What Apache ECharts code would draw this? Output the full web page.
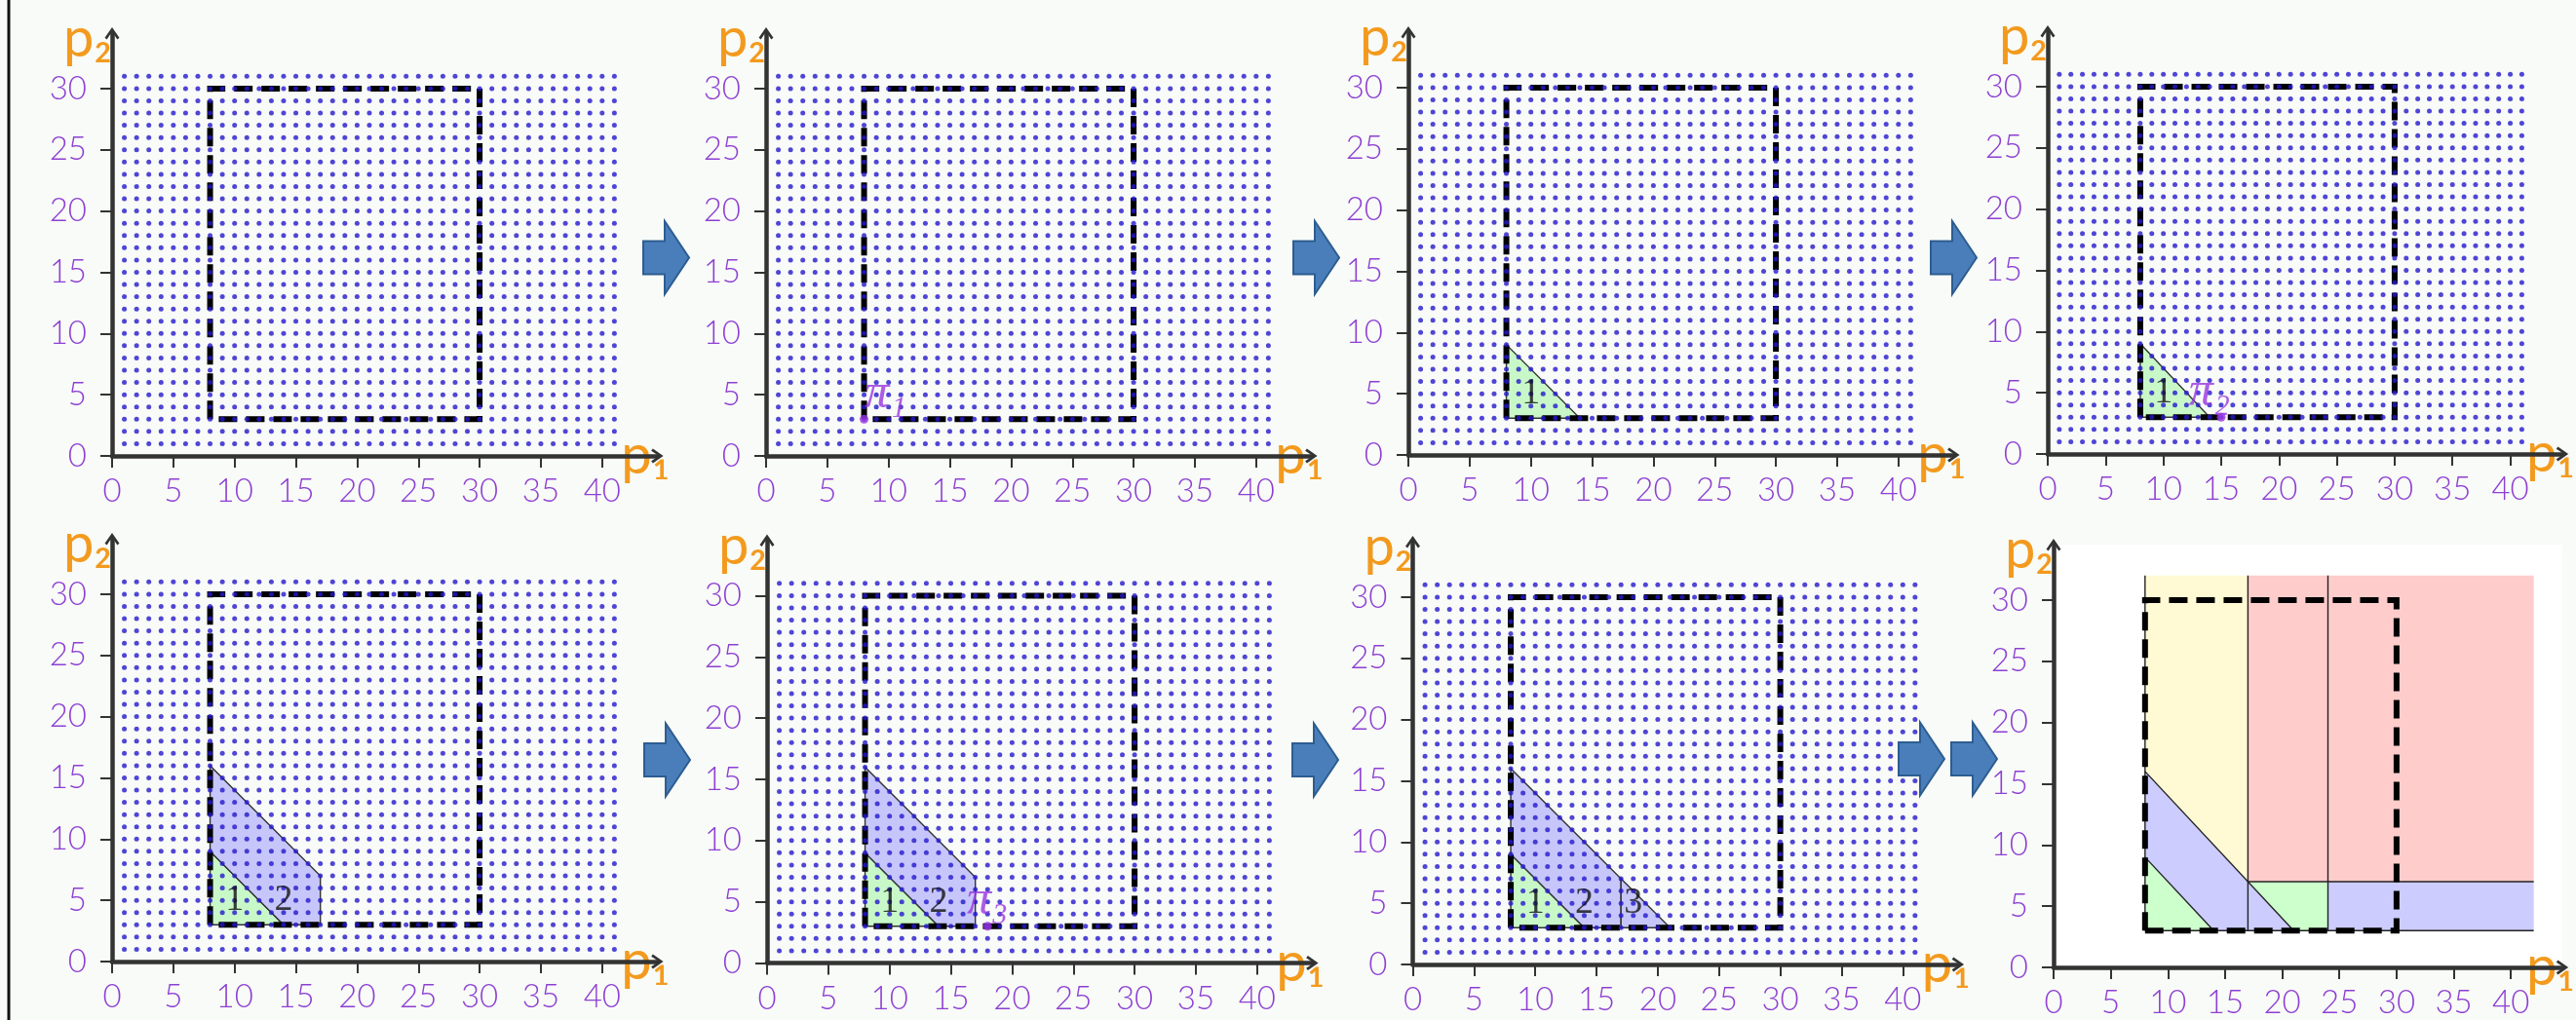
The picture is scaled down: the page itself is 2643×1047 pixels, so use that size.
<!DOCTYPE html>
<html><head><meta charset="utf-8">
<script src="https://cdn.jsdelivr.net/npm/echarts@6/dist/echarts.min.js"></script>
<style>html,body{margin:0;padding:0;background:#f8fbf7;}#c{width:2643px;height:1047px;}</style>
</head><body><div id="c"></div>
<script>
// ---------- data ----------
const xTicks = [0, 5, 10, 15, 20, 25, 30, 35, 40];
const yTicks = [0, 5, 10, 15, 20, 25, 30];
const dotCols = [1,2,3,4,5,6,7,8,9,10,11,12,13,14,15,16,17,18,19,20,21,22,23,24,25,26,27,28,29,30,31,32,33,34,35,36,37,38,39,40,41];
const dotRows = [1,2,3,4,5,6,7,8,9,10,11,12,13,14,15,16,17,18,19,20,21,22,23,24,25,26,27,28,29,30,31];
const feasibleBox = [[8,3],[8,30],[30,30],[30,3],[8,3]];
const region1 = [[8,3],[8,9],[14,3]];
const region2 = [[8,9],[8,16],[17,7],[17,3],[14,3]];
const region3 = [[17,3],[17,7],[21,3]];
const regionLabels = [[10,5,'1'],[14,5,'2'],[18,5,'3']];
const piPoints = [[8,3,'π₁'],[15,3,'π₂'],[18,3,'π₃']];
const axisNames = ['p₁', 'p₂'];
const finalYellow = [[8,16],[8,32],[17,32],[17,7]];
const finalRedA = [[17,7],[17,32],[24,32],[24,7]];
const finalRedB = [[24,7],[24,32],[42,32],[42,7]];
const finalGreenA = [[8,3],[8,9],[14,3]];
const finalBlueA = [[8,9],[8,16],[21,3],[14,3]];
const finalGreenB = [[17,7],[24,7],[24,3],[21,3]];
const finalBlueB = [[24,3],[24,7],[42,7],[42,3]];
const finalEdges = [[[8,3],[8,32]],[[17,3],[17,32]],[[24,3],[24,32]],[[17,7],[42,7]],[[8,3],[42,3]],[[8,9],[14,3]],[[8,16],[21,3]]];

// ---------- layout / style ----------
const U = 12.57, XMAX = 44.5, YMAX = 34.5;
const panels = [
  {ox:115, oy:468}, {ox:786, oy:468}, {ox:1445, oy:467}, {ox:2101, oy:466},
  {ox:115, oy:987}, {ox:787, oy:988.5}, {ox:1449.5, oy:990}, {ox:2107, oy:993}
];
const AX = '#333333', LBL = '#8e3fd4', NAMEC = '#f39a1e', PI = '#9a35e0';
const GREEN = '#c8f8c8', BLUE = '#c6c6fb', EDGE = '#333';
const chevron = 'path://M0,10 L7,0 L14,10 L12,11.6 L7,4.2 L2,11.6 Z';
const dots = [];
dotRows.forEach(r => dotCols.forEach(c => dots.push([c, r])));

const option = {backgroundColor:'#f8fbf7', animation:false, grid:[], xAxis:[], yAxis:[], series:[], graphic:[]};

panels.forEach((p, i) => {
  option.grid.push({left:p.ox, top:p.oy - YMAX*U, width:XMAX*U, height:YMAX*U,
    show: i === 7, backgroundColor:'#ffffff', borderWidth:0});
  const axisLine = {show:true, onZero:false, symbol:['none', chevron], symbolSize:[15,13], lineStyle:{color:AX, width:4.5}};
  const axisTick = {show:true, length:12, lineStyle:{color:AX, width:2}};
  option.xAxis.push({gridIndex:i, type:'value', min:0, max:XMAX,
    axisLine, axisTick:Object.assign({}, axisTick, {customValues:xTicks}),
    axisLabel:{customValues:xTicks, color:LBL, fontFamily:'Lato', fontWeight:300, fontSize:33, margin:20},
    splitLine:{show:false},
    name:axisNames[0], nameLocation:'end', nameGap:-12, nameMoveOverlap:false,
    nameTextStyle:{align:'center', verticalAlign:'middle', padding:[80,0,0,0], fontFamily:'Lato', fontSize:56, color:NAMEC}
  });
  option.yAxis.push({gridIndex:i, type:'value', min:0, max:YMAX,
    axisLine, axisTick:Object.assign({}, axisTick, {customValues:yTicks}),
    axisLabel:{customValues:yTicks, color:LBL, fontFamily:'Lato', fontWeight:300, fontSize:33, margin:26},
    splitLine:{show:false},
    name:axisNames[1], nameLocation:'end', nameGap:-6, nameMoveOverlap:false,
    nameTextStyle:{align:'right', verticalAlign:'middle', padding:[0,0,0,0], fontFamily:'Lato', fontSize:56, color:NAMEC}
  });
});

function polySeries(i, polys, z){
  return {type:'custom', xAxisIndex:i, yAxisIndex:i, z:z, silent:true, clip:false,
    data: polys.map(pl => pl.pts[0]),
    renderItem: (params, api) => {
      const pl = polys[params.dataIndex];
      return {type:'polygon', shape:{points: pl.pts.map(pt => api.coord(pt))},
        style:{fill:pl.fill, stroke:pl.stroke || null, lineWidth:pl.stroke ? 1.4 : 0}};
    }};
}
function edgeSeries(i, edges, z){
  return {type:'custom', xAxisIndex:i, yAxisIndex:i, z:z, silent:true, clip:false,
    data: edges.map(e => e[0]),
    renderItem: (params, api) => {
      const e = edges[params.dataIndex];
      const a = api.coord(e[0]), b = api.coord(e[1]);
      return {type:'line', shape:{x1:a[0], y1:a[1], x2:b[0], y2:b[1]}, style:{stroke:'#222', lineWidth:1.4}};
    }};
}
function boxSeries(i){
  return {type:'line', xAxisIndex:i, yAxisIndex:i, z:3, silent:true, symbol:'none', clip:false,
    data: feasibleBox, lineStyle:{color:'#000', width:6, type:[19,9], join:'miter', cap:'butt'}};
}
function dotSeries(i){
  return {type:'scatter', xAxisIndex:i, yAxisIndex:i, z:4, silent:true, clip:false,
    symbol:'circle', symbolSize:5, itemStyle:{color:'#2418cc'}, data:dots};
}
function regionLabelSeries(i, n){
  return {type:'scatter', xAxisIndex:i, yAxisIndex:i, z:5, silent:true, clip:false,
    symbolSize:2, itemStyle:{color:'rgba(0,0,0,0)'},
    data: regionLabels.slice(0, n).map(r => ({value:[r[0], r[1]], name:r[2]})),
    label:{show:true, position:'inside', formatter:pr => pr.name,
      fontFamily:'Liberation Serif', fontSize:38, color:'#111'}};
}
const piOffsets = [[22,4],[-12,4],[0,4]];
function piSeries(i, k){
  const pt = piPoints[k];
  return {type:'scatter', xAxisIndex:i, yAxisIndex:i, z:6, silent:true, clip:false,
    symbol:'circle', symbolSize:9, itemStyle:{color:PI},
    data:[{value:[pt[0], pt[1]], name:pt[2]}],
    label:{show:true, position:'top', distance:0, offset:piOffsets[k],
      formatter: pr => pr.name, fontFamily:'Liberation Serif', fontStyle:'italic', fontSize:50, color:PI}};
}

const S = option.series;
for (let i = 0; i < 7; i++) { S.push(boxSeries(i)); S.push(dotSeries(i)); }
const r1 = {pts:region1, fill:GREEN, stroke:EDGE};
const r2 = {pts:region2, fill:BLUE, stroke:EDGE};
const r3 = {pts:region3, fill:BLUE, stroke:EDGE};
S.push(polySeries(2, [r1], 1)); S.push(regionLabelSeries(2, 1));
S.push(polySeries(3, [r1], 1)); S.push(regionLabelSeries(3, 1));
S.push(polySeries(4, [r1, r2], 1)); S.push(regionLabelSeries(4, 2));
S.push(polySeries(5, [r1, r2], 1)); S.push(regionLabelSeries(5, 2));
S.push(polySeries(6, [r1, r2, r3], 1)); S.push(regionLabelSeries(6, 3));
S.push(piSeries(1, 0)); S.push(piSeries(3, 1)); S.push(piSeries(5, 2));
S.push(polySeries(7, [
  {pts:finalYellow, fill:'#fffad4'}, {pts:finalRedA, fill:'#ffcccc'}, {pts:finalRedB, fill:'#ffcccc'},
  {pts:finalGreenA, fill:'#ccffcc'}, {pts:finalBlueA, fill:'#ccccff'},
  {pts:finalGreenB, fill:'#ccffcc'}, {pts:finalBlueB, fill:'#ccccff'}], 1));
S.push(edgeSeries(7, finalEdges, 2));
S.push(boxSeries(7));

const arrowShape = [[0,-17],[22,-17],[22,-37.5],[47,0],[22,37.5],[22,17],[0,17]];
const arrowPos = [[660,264.5],[1327,264.5],[1981,264.5],[661,780],[1326,780],[1948,779],[2002,779]];
arrowPos.forEach(a => option.graphic.push({type:'polygon', x:a[0], y:a[1], shape:{points:arrowShape},
  style:{fill:'#4a7ebb', stroke:'#2d5d90', lineWidth:2}, z:10}));
option.graphic.push({type:'line', shape:{x1:9, y1:0, x2:9, y2:1047}, style:{stroke:'#111', lineWidth:3}});

const chart = echarts.init(document.getElementById('c'), null, {renderer:'canvas'});
chart.setOption(option);
</script></body></html>
